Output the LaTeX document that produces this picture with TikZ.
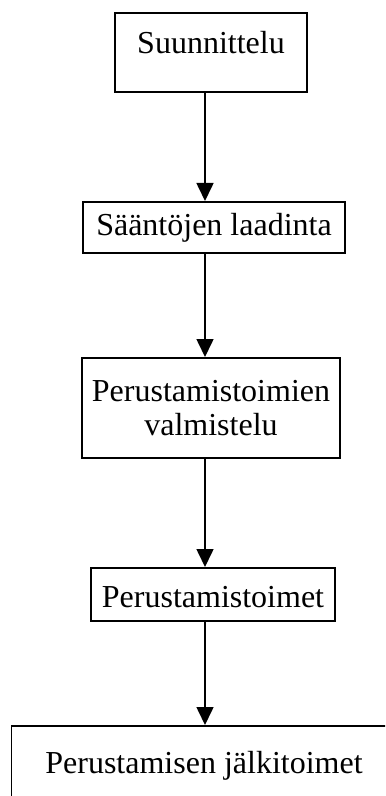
\documentclass[tikz,border=0pt]{standalone}
\usepackage{fontspec}
\setmainfont{Liberation Serif}
\usetikzlibrary{arrows.meta}

\begin{document}
\begin{tikzpicture}[
  x=0.5pt, y=-0.5pt,
  font=\fontsize{16}{17}\selectfont,
  phasebox/.style={draw=black, line width=0.9pt, fill=white,
                   inner xsep=0pt, inner ysep=0pt, anchor=north},
  flowarr/.style={-{Triangle[width=8.5pt,length=9pt]}, line width=0.8pt},
]
\clip (0,0) rectangle (385,796);

% ---- phases, top to bottom ----
\node[phasebox, minimum width=96pt, text height=20.5pt, text depth=19pt]
  (plan) at (211,12) {Suunnittelu};
\node[phasebox, minimum width=131pt, text height=17pt, text depth=8.5pt]
  (rules) at (214,201) {Sääntöjen laadinta};
\node[phasebox, minimum width=129pt, minimum height=50pt, align=center]
  (prep) at (211,357) {Perustamistoimien\\valmistelu};
\node[phasebox, minimum width=122pt, text height=20pt, text depth=6.5pt]
  (found) at (213,567) {Perustamistoimet};
% last box runs past the bottom and right edge
\node[phasebox, minimum width=192.5pt, text height=24pt, text depth=40pt]
  (after) at (204,725) {Perustamisen jälkitoimet};

% arrows all on one vertical line
\coordinate (ax) at (205,0);
\draw[flowarr] (plan.south -| ax) -- (rules.north -| ax);
\draw[flowarr] (rules.south -| ax) -- (prep.north -| ax);
\draw[flowarr] (prep.south -| ax) -- (found.north -| ax);
\draw[flowarr] (found.south -| ax) -- (after.north -| ax);

\end{tikzpicture}
\end{document}
